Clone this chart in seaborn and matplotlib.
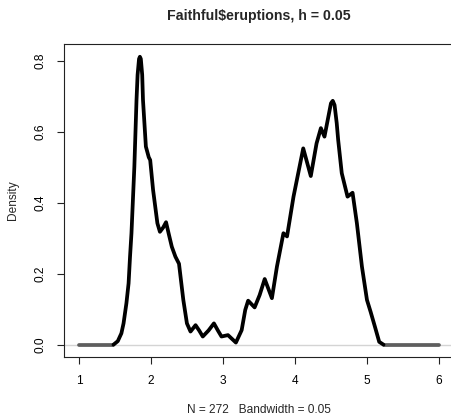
import matplotlib
matplotlib.use("Agg")
import matplotlib.pyplot as plt
import seaborn as sns
import pandas as pd

sns.set_style("white")
plt.rcParams['font.family'] = ['Liberation Sans', 'DejaVu Sans']

# density curve
dens_x = [1.48, 1.54, 1.59, 1.62, 1.66, 1.69, 1.71, 1.73, 1.77, 1.80, 1.815, 1.835, 1.847,
          1.86, 1.879, 1.89, 1.93, 1.97, 1.99, 2.03, 2.09, 2.125, 2.17, 2.21, 2.25, 2.29,
          2.34, 2.39, 2.45, 2.50, 2.55, 2.62, 2.67, 2.72, 2.80, 2.875, 2.93, 2.98,
          3.07, 3.18, 3.26, 3.31, 3.35, 3.44, 3.51, 3.58, 3.68, 3.75, 3.84, 3.89,
          3.98, 4.115, 4.22, 4.30, 4.36, 4.41, 4.50, 4.525, 4.55, 4.58, 4.60, 4.65, 4.73, 4.80,
          4.86, 4.93, 5.00, 5.05, 5.11, 5.17, 5.23]
dens_y = [0.000, 0.010, 0.032, 0.060, 0.117, 0.173, 0.248, 0.314, 0.501, 0.689, 0.760, 0.805, 0.811,
          0.805, 0.760, 0.689, 0.558, 0.528, 0.520, 0.436, 0.342, 0.318, 0.330, 0.345, 0.310, 0.276,
          0.248, 0.228, 0.126, 0.060, 0.037, 0.055, 0.040, 0.023, 0.040, 0.060, 0.040, 0.023,
          0.027, 0.006, 0.041, 0.098, 0.124, 0.105, 0.140, 0.185, 0.131, 0.220, 0.314, 0.305,
          0.417, 0.553, 0.475, 0.567, 0.610, 0.586, 0.680, 0.687, 0.675, 0.624, 0.577, 0.483, 0.417, 0.428,
          0.342, 0.220, 0.126, 0.093, 0.051, 0.008, 0.000]

# flat tails of the estimate (zero density)
tail_left_x = [1.0, 1.48]
tail_right_x = [5.23, 6.0]
tail_y = [0.0, 0.0]

x_ticks = [1, 2, 3, 4, 5, 6]
y_ticks = [0.0, 0.2, 0.4, 0.6, 0.8]
y_tick_labels = ["0.0", "0.2", "0.4", "0.6", "0.8"]

title = "Faithful$eruptions, h = 0.05"
xlabel = "N = 272   Bandwidth = 0.05"
ylabel = "Density"

fig = plt.figure(figsize=(4.51, 4.15), dpi=100)
ax = fig.add_axes([0.143, 0.1405, 0.8623, 0.7535])

ax.axhline(0, color="#d4d4d4", lw=1.0, zorder=1)

df = pd.DataFrame({"x": dens_x, "y": dens_y})
sns.lineplot(data=df, x="x", y="y", ax=ax, color="black", lw=2.7,
             estimator=None, sort=False, zorder=3)
for tx in (tail_left_x, tail_right_x):
    sns.lineplot(x=tx, y=tail_y, ax=ax, color="#5e5e5e", lw=2.7,
                 estimator=None, sort=False, zorder=2)

ax.set_xlim(0.8, 6.2)
ax.set_ylim(-0.0338, 0.847)
ax.set_xticks(x_ticks)
ax.set_xticklabels([str(v) for v in x_ticks])
ax.set_yticks(y_ticks)
ax.set_yticklabels(y_tick_labels, rotation=90, va="center")

for s in ax.spines.values():
    s.set_visible(True)
    s.set_color("#222222")
    s.set_linewidth(0.8)

ax.tick_params(axis="both", direction="out", length=5, width=0.8, color="#222222",
               labelsize=8.6, labelcolor="black", bottom=True, left=True)
ax.tick_params(axis="x", pad=8)
ax.tick_params(axis="y", pad=8)

ax.set_title(title, fontsize=10.2, fontweight="bold", pad=17.5)
ax.set_xlabel(xlabel, fontsize=8.6)
ax.set_ylabel(ylabel, fontsize=8.6)
# centre xlabel under data range 1..6 (axes fraction of x=3.5)
ax.xaxis.set_label_coords((3.5 - 0.8) / (6.2 - 0.8), -0.152)
ax.yaxis.set_label_coords(-0.118, 0.5)

fig.savefig("out.png", dpi=100)
